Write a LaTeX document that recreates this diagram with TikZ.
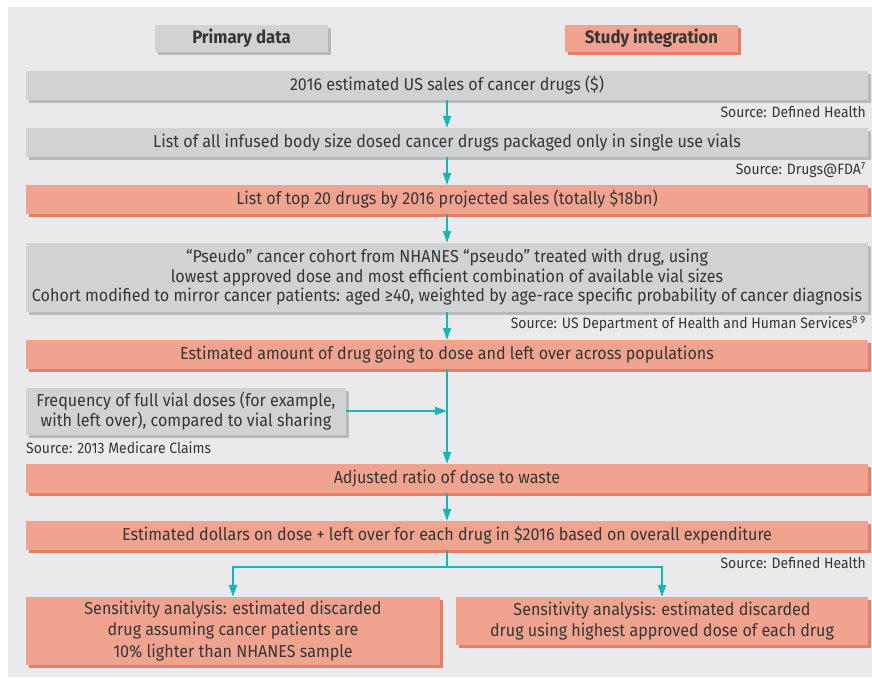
\documentclass[tikz,border=0pt]{standalone}
\usepackage{fontspec}
\setmainfont{Fira Sans}[FakeStretch=0.93]
\usetikzlibrary{arrows.meta,shadows}
\definecolor{bg}{HTML}{EAEAEC}
\definecolor{gbox}{HTML}{D1D2D4}
\definecolor{gshad}{HTML}{B9BABC}
\definecolor{sbox}{HTML}{F0A38F}
\definecolor{sshad}{HTML}{E57E69}
\definecolor{teal}{HTML}{17B5B5}
\definecolor{txt}{HTML}{363636}
\tikzset{
  base/.style={inner sep=0pt, align=center, text=txt, font=\fontsize{17.3}{19.5}\selectfont},
  graybox/.style={base, fill=gbox, drop shadow={shadow xshift=3pt, shadow yshift=-3pt, fill=gshad, opacity=1}},
  salmonbox/.style={base, fill=sbox, drop shadow={shadow xshift=3pt, shadow yshift=-3pt, fill=sshad, opacity=1}},
  wide/.style={minimum width=842pt, minimum height=29pt},
  loose/.style={font=\fontsize{17.3}{21.5}\selectfont},
  src/.style={anchor=east, inner sep=0pt, text=txt, font=\fontsize{15}{17}\selectfont},
  link/.style={draw=teal, line width=1.8pt},
  arr/.style={link, -{Triangle[width=8pt,length=12pt]}},
  head/.style={font=\fontsize{18}{20}\selectfont\bfseries, minimum width=173pt, minimum height=27pt}
}
\begin{document}
\begin{tikzpicture}[x=1pt,y=-1pt]
\useasboundingbox (0,0) rectangle (872,677);
\fill[bg] (8,7) rectangle (872,677);
\node[graybox,head] (h1) at (241.5,38.5) {Primary data};
\node[salmonbox,head] (h2) at (651.5,38.5) {Study integration};
\node[graybox,wide] (b1) at (447,85.5) {2016 estimated US sales of cancer drugs (\$)};
\node[src] (s1) at (866,112) {Source: Defined Health};
\node[graybox,wide] (b2) at (447,142.5) {List of all infused body size dosed cancer drugs packaged only in single use vials};
\node[src] (s2) at (866,170) {Source: Drugs@FDA\textsuperscript{7}};
\node[salmonbox,wide] (b3) at (447,199.5) {List of top 20 drugs by 2016 projected sales (totally \$18bn)};
\node[graybox,wide,minimum height=69pt] (b4) at (447,277.5) {“Pseudo” cancer cohort from NHANES “pseudo” treated with drug, using\\lowest approved dose and most efficient combination of available vial sizes\\Cohort modified to mirror cancer patients: aged ≥40, weighted by age-race specific probability of cancer diagnosis};
\node[src] (s3) at (866,324) {Source: US Department of Health and Human Services\textsuperscript{8 9}};
\node[salmonbox,wide] (b5) at (447,354.5) {Estimated amount of drug going to dose and left over across populations};
\node[graybox,minimum width=320pt,minimum height=47pt,font=\fontsize{17.3}{20}\selectfont] (b6) at (186,411) {Frequency of full vial doses (for example,\\with left over), compared to vial sharing};
\node[src,anchor=west] (s4) at (26,448) {Source: 2013 Medicare Claims};
\node[salmonbox,wide] (b7) at (447,478.5) {Adjusted ratio of dose to waste};
\node[salmonbox,wide] (b8) at (447,535.5) {Estimated dollars on dose + left over for each drug in \$2016 based on overall expenditure};
\node[src] (s5) at (866,563) {Source: Defined Health};
\node[salmonbox,loose,minimum width=414pt,minimum height=68pt] (b9) at (233,631) {Sensitivity analysis: estimated discarded\\drug assuming cancer patients are\\10\% lighter than NHANES sample};
\node[salmonbox,loose,minimum width=412pt,minimum height=48pt] (b10) at (662,621) {Sensitivity analysis: estimated discarded\\drug using highest approved dose of each drug};
\draw[arr] (b1.south) -- (b2.north);
\draw[arr] (b2.south) -- (b3.north);
\draw[arr] (b3.south) -- (b4.north);
\draw[arr] (b4.south) -- (b5.north);
\draw[arr] (b5.south) -- (b7.north);
\draw[arr] (b6.east) -- (b6.east -| b5.south);
\draw[arr] (b7.south) -- (b8.north);
\draw[link] (b8.south) -- ++(0,17) coordinate (j);
\draw[arr] (j) -| (b9.north);
\draw[arr] (j) -| (b10.north);
\end{tikzpicture}
\end{document}
